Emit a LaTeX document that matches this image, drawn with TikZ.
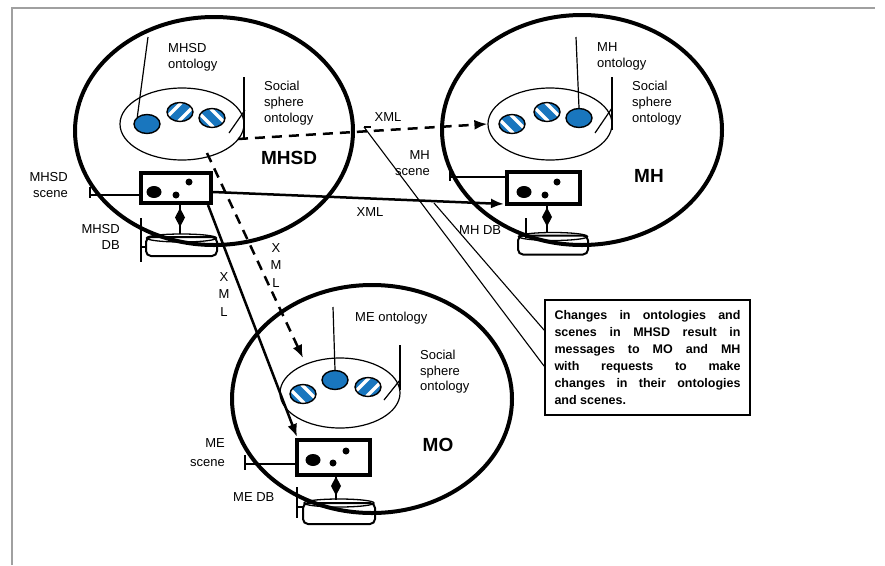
\documentclass[tikz,border=0pt]{standalone}
\usepackage{fontspec}
\setmainfont{Liberation Sans}
\usetikzlibrary{shapes.geometric,arrows.meta,calc}
\definecolor{oblue}{RGB}{25,118,190}
\definecolor{framegray}{RGB}{160,160,160}
\tikzset{
 bigell/.style={draw, ellipse, line width=4pt, inner sep=0pt},
 innerell/.style={draw, ellipse, line width=1.2pt, inner sep=0pt},
 blob/.style={draw, ellipse, line width=1.4pt, inner sep=0pt, minimum width=26pt, minimum height=19pt},
 fblob/.style={blob, fill=oblue},
 sblobA/.style={blob, fill=oblue, path picture={
   \draw[white,line width=3.5pt] ($(path picture bounding box.center)+(-16,-24)$) -- ++(40,40);
   \draw[white,line width=3.5pt] ($(path picture bounding box.center)+(-24,-16)$) -- ++(40,40);}},
 sblobB/.style={blob, fill=oblue, path picture={
   \draw[white,line width=3.5pt] ($(path picture bounding box.center)+(-16,24)$) -- ++(40,-40);
   \draw[white,line width=3.5pt] ($(path picture bounding box.center)+(-24,16)$) -- ++(40,-40);}},
 scenebox/.style={draw, rectangle, line width=4pt, inner sep=0pt},
 dbbody/.style={draw, rectangle, rounded corners=5pt, line width=2pt, inner sep=0pt},
 dbtop/.style={draw, ellipse, line width=1.3pt, inner sep=0pt},
 lbl/.style={font=\fontsize{13}{16}\selectfont, inner sep=0pt},
 biglbl/.style={font=\fontsize{19}{22}\selectfont\bfseries, inner sep=0pt},
 pointer/.style={line width=1.2pt},
 conn/.style={line width=2.5pt, -{Latex[length=13pt,width=10pt]}},
 dconn/.style={conn, dash pattern=on 10pt off 7pt},
 thinline/.style={line width=1.1pt},
 dotb/.style={fill=black, ellipse, inner sep=0pt},
 dbar/.style={line width=1.5pt},
}
\newcommand\ddiamond[2]{\fill (#1,#2-9.5) -- (#1+5,#2) -- (#1,#2+9.5) -- (#1-5,#2) -- cycle;}
\begin{document}
\begin{tikzpicture}[x=1pt,y=-1pt]
\useasboundingbox (0,0) rectangle (885,565);
% frame
\draw[framegray, line width=1.5pt] (12,565) -- (12,8) -- (875,8);

% ===== MHSD =====
\node[bigell, minimum width=278pt, minimum height=228pt] (mhsd) at (214,131) {};
\node[innerell, minimum width=124pt, minimum height=72pt] (ont1) at (182,124) {};
\node[fblob] (b11) at (147,124) {};
\node[sblobB] (b12) at (180,112) {};
\node[sblobA] (b13) at (212,118) {};
\node[scenebox, minimum width=70pt, minimum height=30pt] (s1) at (176,188) {};
\node[dotb, minimum width=15pt, minimum height=12pt] (s1a) at (154,192) {};
\node[dotb, minimum width=7pt, minimum height=7pt] (s1b) at (176,195) {};
\node[dotb, minimum width=7pt, minimum height=7pt] (s1c) at (189,182) {};
\node[dbbody, minimum width=71pt, minimum height=19pt] (db1) at (181.5,246.5) {};
\node[dbtop, minimum width=70pt, minimum height=8pt] (db1t) at (181.5,238) {};
\draw[dbar] (180,205) -- (180,234);
\ddiamond{180}{217.5}
\node[biglbl] (l1) at (289,158) {MHSD};
\node[lbl, anchor=north west, align=left] (l1o) at (168,43) {MHSD\\ontology};
\node[lbl, anchor=north west, align=left] (l1s) at (264,81) {Social\\sphere\\ontology};
\node[lbl, anchor=north east, align=right] (l1sc) at (68,172) {MHSD\\scene};
\node[lbl, anchor=north east, align=right] (l1db) at (120,224) {MHSD\\DB};
\draw[pointer] (148,37) -- (b11.north west);
\draw[pointer] (244,77) -- (244,140);
\draw[pointer] (229,133) -- (245,110);
\draw[pointer] (90,187) -- (90,198);
\draw[pointer] (90,195) -- (s1.west |- 0,195);
\draw[pointer] (141,218) -- (141,262);
\draw[pointer] (141,247) -- (147,247);

% ===== MH =====
\node[bigell, minimum width=280pt, minimum height=230pt] (mh) at (582,130) {};
\node[innerell, minimum width=124pt, minimum height=72pt] (ont2) at (550,124) {};
\node[sblobA] (b21) at (512,124) {};
\node[sblobA] (b22) at (547,112) {};
\node[fblob] (b23) at (579,118) {};
\node[scenebox, minimum width=73pt, minimum height=32pt] (s2) at (543.5,188) {};
\node[dotb, minimum width=15pt, minimum height=12pt] (s2a) at (524,192) {};
\node[dotb, minimum width=7pt, minimum height=7pt] (s2b) at (545,195) {};
\node[dotb, minimum width=7pt, minimum height=7pt] (s2c) at (557,182) {};
\node[dbbody, minimum width=70pt, minimum height=19pt] (db2) at (553,245) {};
\node[dbtop, minimum width=69pt, minimum height=8pt] (db2t) at (553,236.5) {};
\draw[dbar] (547,206) -- (547,233);
\ddiamond{547}{217}
\node[biglbl] (l2) at (649,176) {MH};
\node[lbl, anchor=north west, align=left] (l2o) at (597,42) {MH\\ontology};
\node[lbl, anchor=north west, align=left] (l2s) at (632,81) {Social\\sphere\\ontology};
\node[lbl, anchor=north east, align=right] (l2sc) at (430,150) {MH\\scene};
\node[lbl, anchor=west] (l2db) at (459,230) {MH DB};
\draw[pointer] (576,37) -- (b23.north);
\draw[pointer] (612,77) -- (612,130);
\draw[pointer] (595,133) -- (612,108);
\draw[pointer] (450,168) -- (450,181);
\draw[pointer] (450,177) -- (s2.west |- 0,177);
\draw[pointer] (526,218) -- (526,238);

% ===== MO =====
\node[bigell, minimum width=280pt, minimum height=228pt] (mo) at (372,399) {};
\node[innerell, minimum width=120pt, minimum height=70pt] (ont3) at (340,393) {};
\node[sblobA] (b31) at (303,394) {};
\node[fblob] (b32) at (335,380) {};
\node[sblobB] (b33) at (368,387) {};
\node[scenebox, minimum width=73pt, minimum height=35pt] (s3) at (333.5,457.5) {};
\node[dotb, minimum width=15pt, minimum height=12pt] (s3a) at (313,460) {};
\node[dotb, minimum width=7pt, minimum height=7pt] (s3b) at (333,463) {};
\node[dotb, minimum width=7pt, minimum height=7pt] (s3c) at (346,451) {};
\node[dbbody, minimum width=72pt, minimum height=21pt] (db3) at (339,513.5) {};
\node[dbtop, minimum width=70pt, minimum height=8pt] (db3t) at (339,503) {};
\draw[dbar] (336,477) -- (336,500);
\ddiamond{336}{486}
\node[biglbl] (l3) at (438,445) {MO};
\node[lbl, anchor=north west] (l3o) at (355,312) {ME ontology};
\node[lbl, anchor=north west, align=left, font=\fontsize{13}{15.5}\selectfont] (l3s) at (420,350) {Social\\sphere\\ontology};
\node[lbl, anchor=north east, align=right, font=\fontsize{13}{19}\selectfont] (l3sc) at (225,438) {ME\\scene};
\node[lbl, anchor=west] (l3db) at (233,497) {ME DB};
\draw[pointer] (333,307) -- (b32.north);
\draw[pointer] (400,345) -- (400,390);
\draw[pointer] (384,400) -- (400,380);
\draw[pointer] (245,455) -- (245,470);
\draw[pointer] (245,464) -- (s3.west |- 0,464);
\draw[pointer] (297,487) -- (297,518);
\draw[pointer] (297,507) -- (303,507);

% ===== note =====
\node[draw, line width=1.5pt, rectangle, minimum width=205pt, minimum height=115pt, inner sep=0pt,
  font=\fontsize{12.5}{17}\selectfont\bfseries] (note) at (647.5,357.5)
 {\parbox{186pt}{\makebox[186pt][s]{Changes in ontologies and}\\
 \makebox[186pt][s]{scenes in MHSD result in}\\
 \makebox[186pt][s]{messages to MO and MH}\\
 \makebox[186pt][s]{with requests to make}\\
 \makebox[186pt][s]{changes in their ontologies}\\
 \makebox[186pt][l]{and scenes.}}};

% ===== connectors =====
\coordinate (c1s) at (238,139);
\coordinate (c1e) at (ont2.west);
\draw[dconn] (c1s) -- (c1e);
\node[lbl] (x1) at (388,117) {XML};

\coordinate (c2s) at (s1.east |- 0,192);
\coordinate (c2e) at (504,204);
\draw[conn] (c2s) -- (c2e);
\node[lbl] (x2) at (370,212) {XML};

\coordinate (c3s) at (208,205);
\coordinate (c3e) at (297,437);
\draw[conn] (c3s) -- (c3e);
\node[lbl, anchor=north, align=center, font=\fontsize{13}{17.5}\selectfont] (x3) at (224,272) {X\\M\\L};

\coordinate (c4s) at (207,153);
\coordinate (c4e) at (303,358);
\draw[dconn] (c4s) -- (c4e);
\node[lbl, anchor=north, align=center, font=\fontsize{13}{17.5}\selectfont] (x4) at (276,243) {X\\M\\L};

\coordinate (t1) at (364,127);
\draw[thinline] (t1) -- ++(7,0);
\draw[thinline] (t1) -- ($(note.north west)+(0,67)$);
\coordinate (t2) at (434,203);
\draw[thinline] (t2) -- ($(note.north west)+(0,31)$);
\end{tikzpicture}
\end{document}
